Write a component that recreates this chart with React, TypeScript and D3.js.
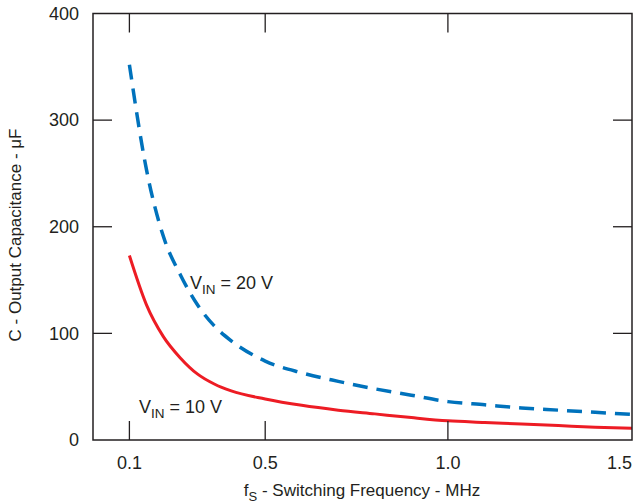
import React from 'react';
import * as d3 from 'd3';

// switching frequency (MHz) and output capacitance (uF)
const freqMHz = [0.1, 0.15, 0.2, 0.25, 0.3, 0.35, 0.4, 0.5, 0.6, 0.7, 0.8, 0.9, 1.0, 1.1, 1.2, 1.3, 1.4, 1.5];
const capVin20 = [352, 254, 191, 155, 127, 107, 93, 74, 63, 55, 48, 42, 36, 33, 30, 28, 26, 24];
const capVin10 = [173, 127, 97, 77, 62, 52.5, 46, 38.5, 32.5, 28, 24.5, 21, 18, 16.5, 15, 13.5, 12, 11];

const xTicks = [0.1, 0.5, 1.0, 1.5];
const xTickLabels = ['0.1', '0.5', '1.0', '1.5'];
const yTicks = [0, 100, 200, 300, 400];

const W = 633, H = 504;
const left = 93, right = 632, top = 13.5, bottom = 440;
const ink = '#231f20';
const font = '"Liberation Sans", Arial, Helvetica, sans-serif';

export default function App() {
    // the frequency axis on the original is not quite uniform, so map tick to tick
    const x = d3.scaleLinear()
        .domain(xTicks)
        .range([129.4, 265.2, 447.9, right]);
    const y = d3.scaleLinear()
        .domain([0, 400])
        .range([bottom, top]);

    const line = d3.line<number>()
        .x((d, i) => x(freqMHz[i]))
        .y(d => y(d))
        .curve(d3.curveMonotoneX);

    const tickLen = 19;

    return (
        <svg width={W} height={H} style={{ position: 'absolute', left: 0, top: 0 }}
             fontFamily={font} fill={ink}>
            <rect x={0} y={0} width={W} height={H} fill="#fff" />

            {/* curves */}
            <path d={line(capVin10) || ''} fill="none" stroke="#ed1c24" strokeWidth={3} />
            <path d={line(capVin20) || ''} fill="none" stroke="#0072bc" strokeWidth={3.5}
                  strokeDasharray="15 9" />

            {/* frame */}
            <rect x={left} y={top} width={right - left} height={bottom - top}
                  fill="none" stroke={ink} strokeWidth={1.5} />

            {/* x ticks, inward on top and bottom */}
            {xTicks.filter(t => x(t) < right - 1).map(t => (
                <g key={'xt' + t} stroke={ink} strokeWidth={1.3}>
                    <line x1={x(t)} x2={x(t)} y1={bottom} y2={bottom - tickLen} />
                    <line x1={x(t)} x2={x(t)} y1={top} y2={top + tickLen} />
                </g>
            ))}
            {/* y ticks, inward on left and right */}
            {yTicks.filter(t => t > 0 && t < 400).map(t => (
                <g key={'yt' + t} stroke={ink} strokeWidth={1.3}>
                    <line x1={left} x2={left + tickLen} y1={y(t)} y2={y(t)} />
                    <line x1={right} x2={right - tickLen} y1={y(t)} y2={y(t)} />
                </g>
            ))}

            {/* tick labels; the last one sits flush with the right edge */}
            {xTicks.map((t, i) => {
                const last = i === xTicks.length - 1;
                return (
                    <text key={'xl' + t} x={last ? W - 1 : x(t)} y={469} fontSize={18}
                          textAnchor={last ? 'end' : 'middle'}>
                        {xTickLabels[i]}
                    </text>
                );
            })}
            {yTicks.map(t => (
                <text key={'yl' + t} x={79} y={y(t)} dy="0.35em" fontSize={18} textAnchor="end">
                    {t}
                </text>
            ))}

            {/* axis titles */}
            <text x={362} y={496} fontSize={17} textAnchor="middle">
                f<tspan fontSize={13} dy={5}>S</tspan><tspan dy={-5}> - Switching Frequency - MHz</tspan>
            </text>
            <text transform="translate(21,235) rotate(-90)" fontSize={17} textAnchor="middle">
                C - Output Capacitance - μF
            </text>

            {/* curve labels */}
            <text x={190} y={289} fontSize={18}>
                V<tspan fontSize={13.5} dy={5}>IN</tspan><tspan dy={-5}> = 20 V</tspan>
            </text>
            <text x={139} y={413} fontSize={18}>
                V<tspan fontSize={13.5} dy={5}>IN</tspan><tspan dy={-5}> = 10 V</tspan>
            </text>
        </svg>
    );
}
